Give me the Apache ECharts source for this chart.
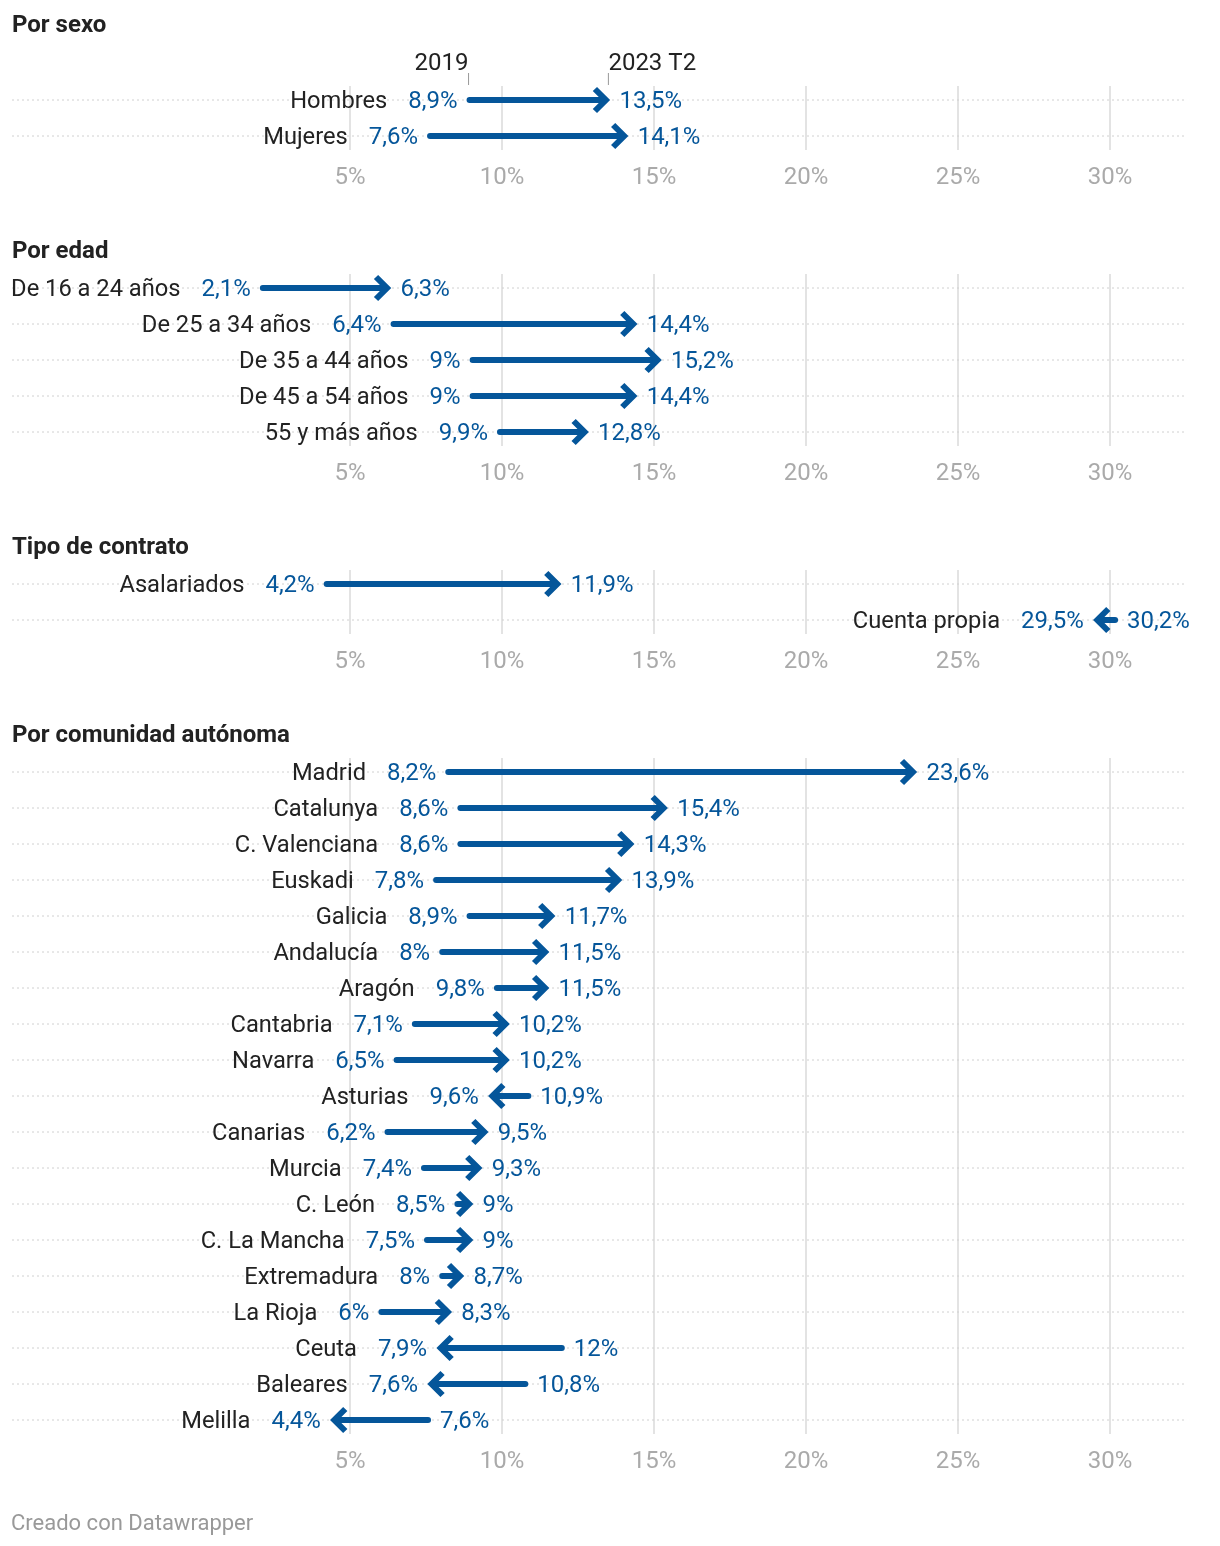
<!DOCTYPE html>
<html><head><meta charset="utf-8">
<script src="https://cdn.jsdelivr.net/npm/echarts@6/dist/echarts.min.js"></script>
<style>html,body{margin:0;padding:0;background:#fff}#c{width:1220px;height:1546px}</style>
</head><body><div id="c"></div>
<script>
// ---- data ----
const tickValues = [5, 10, 15, 20, 25, 30];
const headerLabels = ['2019', '2023 T2'];

const sexoTitle = 'Por sexo';
const sexoNames = ['Hombres', 'Mujeres'];
const sexo2019 = [8.9, 7.6];
const sexo2023 = [13.5, 14.1];

const edadTitle = 'Por edad';
const edadNames = ['De 16 a 24 años', 'De 25 a 34 años', 'De 35 a 44 años', 'De 45 a 54 años', '55 y más años'];
const edad2019 = [2.1, 6.4, 9, 9, 9.9];
const edad2023 = [6.3, 14.4, 15.2, 14.4, 12.8];

const contratoTitle = 'Tipo de contrato';
const contratoNames = ['Asalariados', 'Cuenta propia'];
const contrato2019 = [4.2, 30.2];
const contrato2023 = [11.9, 29.5];

const ccaaTitle = 'Por comunidad autónoma';
const ccaaNames = ['Madrid', 'Catalunya', 'C. Valenciana', 'Euskadi', 'Galicia', 'Andalucía', 'Aragón', 'Cantabria', 'Navarra', 'Asturias', 'Canarias', 'Murcia', 'C. León', 'C. La Mancha', 'Extremadura', 'La Rioja', 'Ceuta', 'Baleares', 'Melilla'];
const ccaa2019 = [8.2, 8.6, 8.6, 7.8, 8.9, 8, 9.8, 7.1, 6.5, 10.9, 6.2, 7.4, 8.5, 7.5, 8, 6, 12, 10.8, 7.6];
const ccaa2023 = [23.6, 15.4, 14.3, 13.9, 11.7, 11.5, 11.5, 10.2, 10.2, 9.6, 9.5, 9.3, 9, 9, 8.7, 8.3, 7.9, 7.6, 4.4];

const footerText = 'Creado con Datawrapper';

// ---- styles ----
const FONT = 'Roboto, sans-serif';
const FS = 24;
const NFS = 23.7;
const BLUE = '#05569a';
const DARK = '#222222';
const GRIDC = '#e3e3e3';
const AXIS_MIN = -6.1184, AXIS_MAX = 32.5;
const TY = 2; // text optical offset

const mctx = document.createElement('canvas').getContext('2d');
function tw(t) { mctx.font = FS + 'px Roboto'; return mctx.measureText(t).width; }
function fmt(v) { return (Number.isInteger(v) ? String(v) : String(v).replace('.', ',')) + '%'; }

const panels = [
  { title: sexoTitle, names: sexoNames, a: sexo2019, b: sexo2023, top: 82, titleY: 24 },
  { title: edadTitle, names: edadNames, a: edad2019, b: edad2023, top: 270, titleY: 250 },
  { title: contratoTitle, names: contratoNames, a: contrato2019, b: contrato2023, top: 566, titleY: 546 },
  { title: ccaaTitle, names: ccaaNames, a: ccaa2019, b: ccaa2023, top: 754, titleY: 734 }
];
const ROW = 36;

const grids = [], xAxes = [], yAxes = [], series = [], titles = [];
panels.forEach((p, k) => {
  grids.push({ left: 12, width: 1174, top: p.top, height: p.names.length * ROW });
  xAxes.push({
    type: 'value', gridIndex: k, min: AXIS_MIN, max: AXIS_MAX,
    axisLine: { show: false }, axisTick: { show: false }, splitLine: { show: false },
    axisLabel: { customValues: tickValues, formatter: '{value}%', color: '#aaaaaa', fontSize: FS, fontFamily: FONT, margin: 12 }
  });
  yAxes.push({ type: 'category', gridIndex: k, data: p.names, inverse: true, show: false });
  titles.push({ text: p.title, left: 12, top: p.titleY - 12 + TY, padding: 0,
    textStyle: { fontSize: FS, fontWeight: 'bold', color: DARK, fontFamily: FONT } });

  // vertical gridlines
  series.push({
    type: 'custom', xAxisIndex: k, yAxisIndex: k, silent: true, z: 1,
    data: tickValues.map(v => [v, 0]),
    renderItem: function (params, api) {
      const x = api.coord([api.value(0), 0])[0];
      const cs = params.coordSys;
      return { type: 'line', shape: { x1: x, y1: cs.y + 4, x2: x, y2: cs.y + cs.height - 4 },
        style: { stroke: GRIDC, lineWidth: 2 } };
    }
  });

  // rows
  const names = p.names;
  series.push({
    type: 'custom', xAxisIndex: k, yAxisIndex: k, silent: true, z: 2,
    data: p.a.map((v, i) => [v, p.b[i], i]),
    renderItem: function (params, api) {
      const s = api.value(0), e = api.value(1), i = api.value(2);
      const ps = api.coord([s, i]), pe = api.coord([e, i]);
      const y = ps[1];
      const cs = params.coordSys;
      const dir = e >= s ? 1 : -1;
      const lo = Math.min(ps[0], pe[0]), hi = Math.max(ps[0], pe[0]);
      const loText = fmt(dir > 0 ? s : e), hiText = fmt(dir > 0 ? e : s);
      const tip = pe[0] - dir * 2.5;
      const children = [
        { type: 'line', shape: { x1: cs.x, y1: y, x2: cs.x + cs.width, y2: y },
          style: { stroke: '#d0d0d0', lineWidth: 1, lineDash: [2, 3] } },
        { type: 'line', shape: { x1: ps[0] + dir * 1, y1: y, x2: tip - dir * 3, y2: y },
          style: { stroke: BLUE, lineWidth: 6, lineCap: 'round' } },
        { type: 'polyline', shape: { points: [[tip - dir * 11, y - 11], [tip, y], [tip - dir * 11, y + 11]] },
          style: { stroke: BLUE, lineWidth: 6, fill: null, lineJoin: 'miter' } },
        { type: 'text', style: { text: loText, x: lo - 11, y: y + TY, align: 'right', verticalAlign: 'middle',
          fill: BLUE, fontSize: FS, fontFamily: FONT } },
        { type: 'text', style: { text: hiText, x: hi + 11, y: y + TY, align: 'left', verticalAlign: 'middle',
          fill: BLUE, fontSize: FS, fontFamily: FONT } },
        { type: 'text', style: { text: names[i], x: lo - 11 - tw(loText) - 21, y: y + TY, align: 'right', verticalAlign: 'middle',
          fill: DARK, fontSize: NFS, fontFamily: FONT } }
      ];
      return { type: 'group', children: children };
    }
  });
});

// header for first panel
series.push({
  type: 'custom', xAxisIndex: 0, yAxisIndex: 0, silent: true, z: 3,
  data: [[sexo2019[0], sexo2023[0], 0]],
  renderItem: function (params, api) {
    const pa = api.coord([api.value(0), 0]), pb = api.coord([api.value(1), 0]);
    const y = pa[1];
    return { type: 'group', children: [
      { type: 'line', shape: { x1: pa[0], y1: y - 27, x2: pa[0], y2: y - 15 }, style: { stroke: '#999', lineWidth: 1 } },
      { type: 'line', shape: { x1: pb[0], y1: y - 27, x2: pb[0], y2: y - 15 }, style: { stroke: '#999', lineWidth: 1 } },
      { type: 'text', style: { text: headerLabels[0], x: pa[0], y: y - 38 + TY, align: 'right', verticalAlign: 'middle', fill: DARK, fontSize: FS, fontFamily: FONT } },
      { type: 'text', style: { text: headerLabels[1], x: pb[0], y: y - 38 + TY, align: 'left', verticalAlign: 'middle', fill: DARK, fontSize: FS, fontFamily: FONT } }
    ] };
  }
});

titles.push({ text: footerText, left: 11, top: 1511 + TY, padding: 0,
  textStyle: { fontSize: 22, fontWeight: 'normal', color: '#999999', fontFamily: FONT } });

const chart = echarts.init(document.getElementById('c'), null, { renderer: 'canvas' });
chart.setOption({
  animation: false,
  backgroundColor: '#ffffff',
  title: titles,
  grid: grids, xAxis: xAxes, yAxis: yAxes, series: series
});
</script></body></html>
